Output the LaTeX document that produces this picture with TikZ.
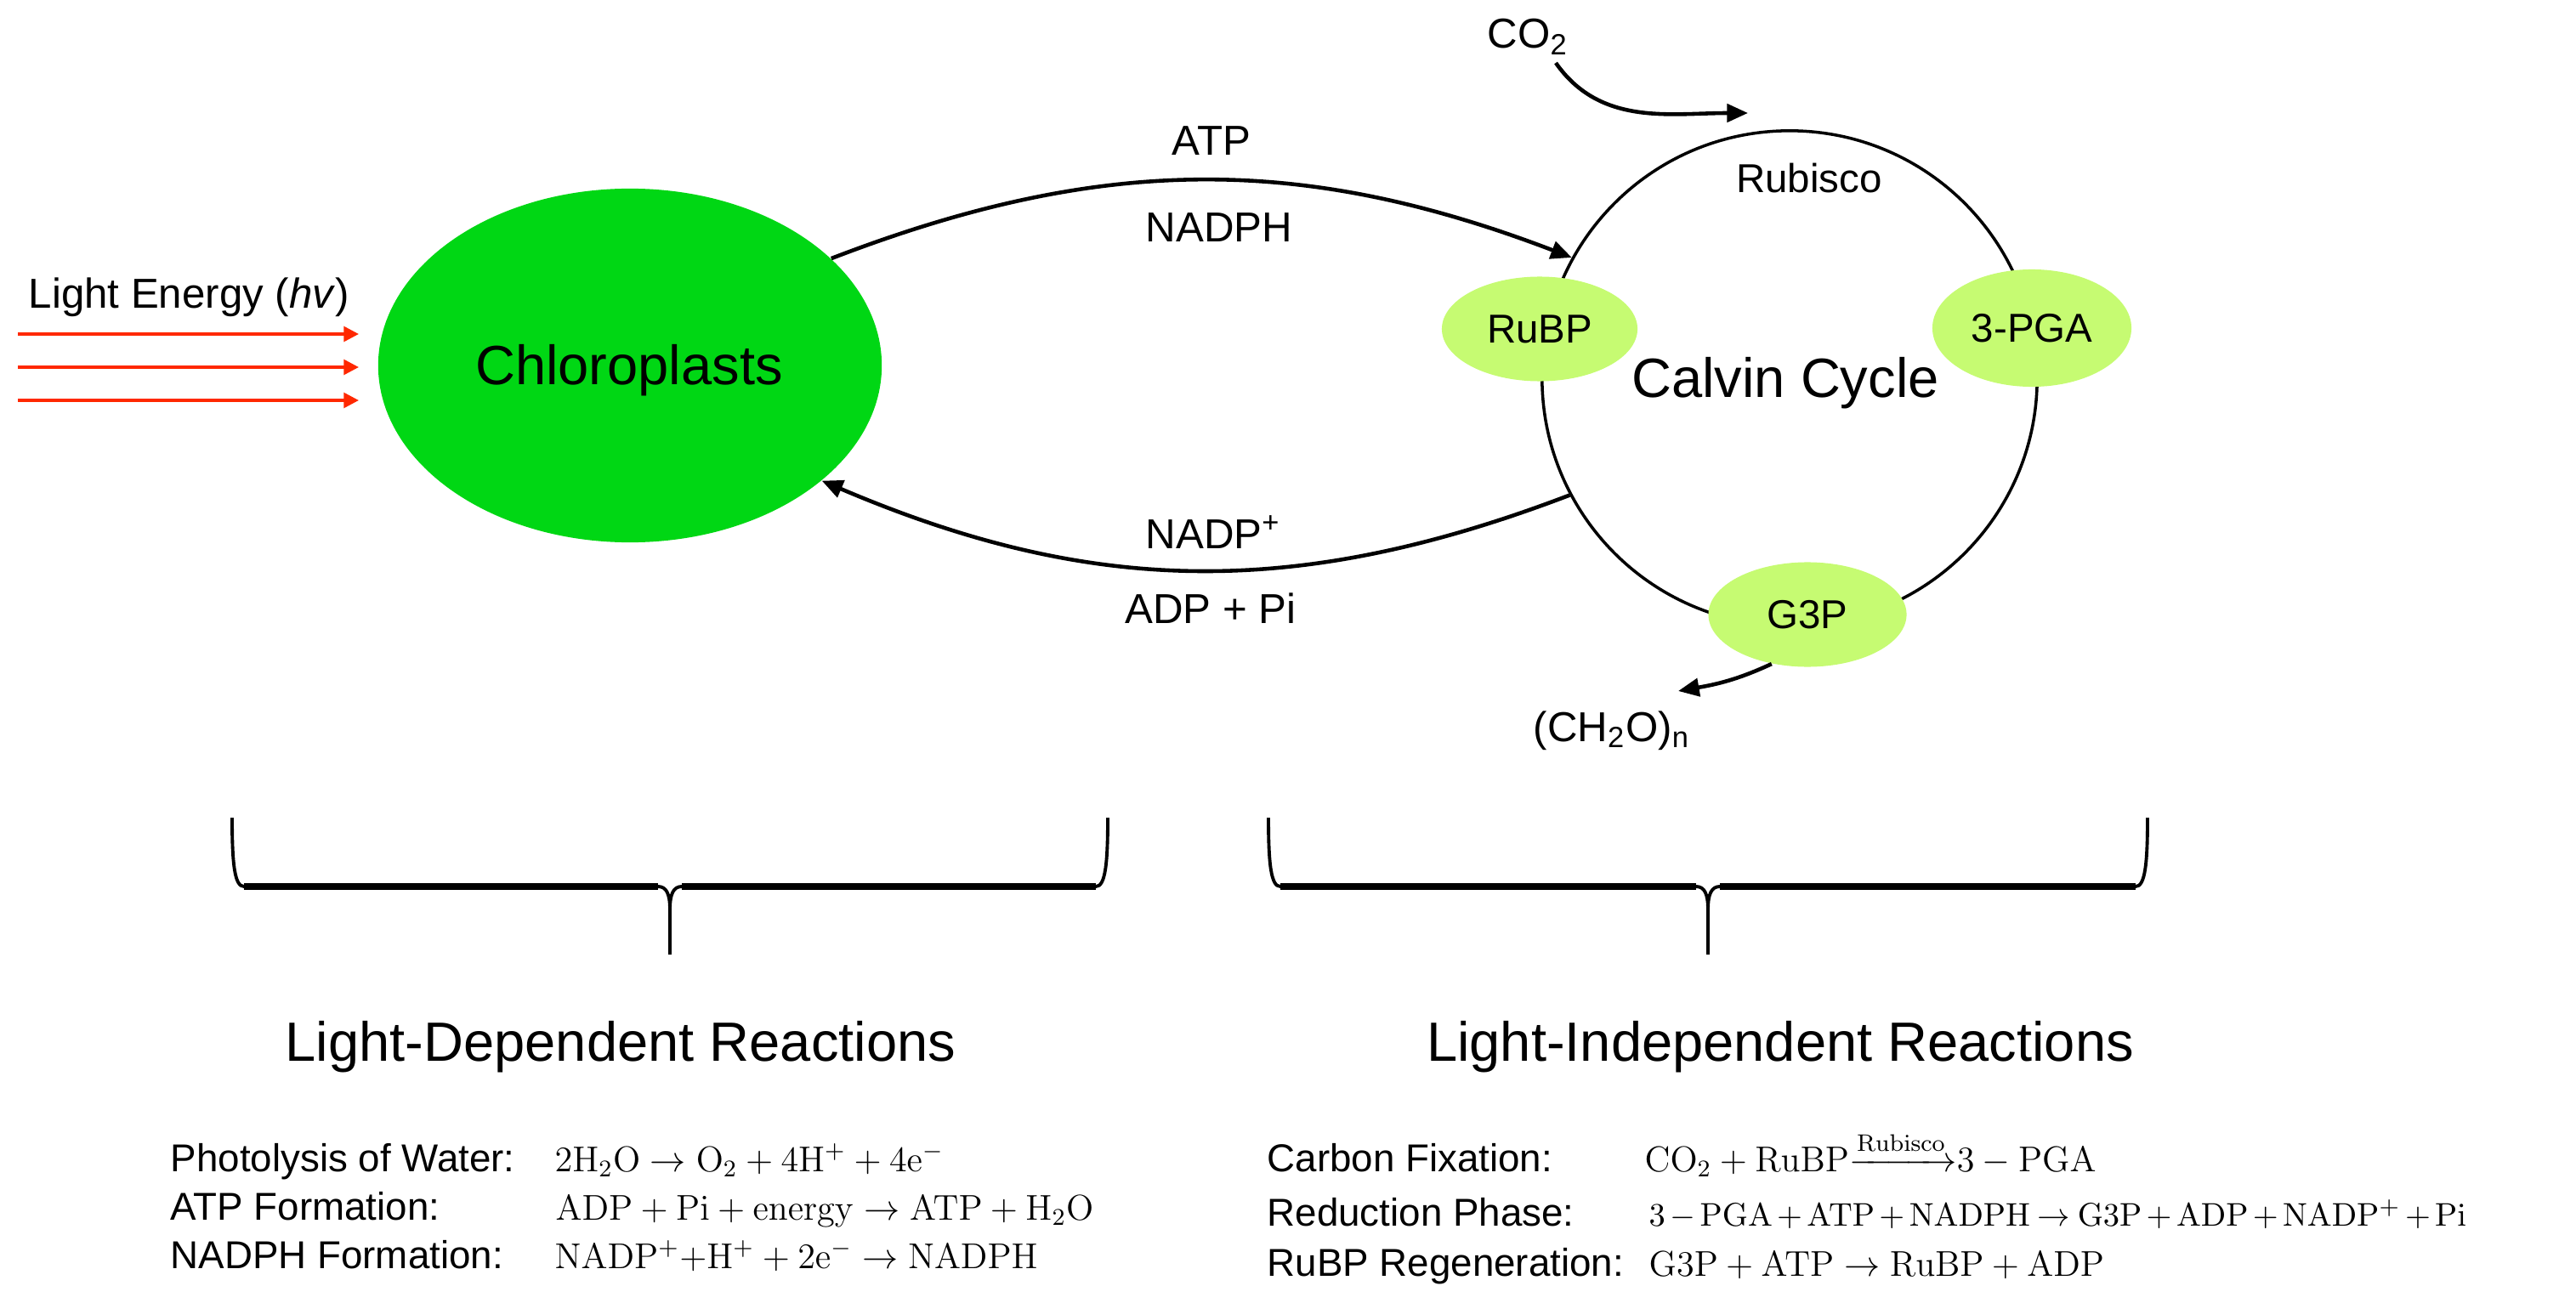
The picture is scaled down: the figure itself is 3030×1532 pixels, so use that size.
\documentclass[tikz,border=0pt]{standalone}
\usepackage[no-math]{fontspec}
\setmainfont{Liberation Sans}
\usepackage{amsmath}
\usetikzlibrary{arrows.meta,shapes.geometric}
\definecolor{chlgreen}{RGB}{0,215,20}
\definecolor{lightgreen}{RGB}{198,251,114}
\definecolor{lightred}{RGB}{255,40,0}
\newcommand\myfs[1]{\fontsize{#1}{#1}\selectfont}
\tikzset{
  blk/.style={line width=1.3pt,-{Triangle[length=7pt,width=6pt]}},
  redarrow/.style={draw=lightred,line width=1pt,-{Triangle[length=5pt,width=5pt]}},
  molec/.style={ellipse,fill=lightgreen,inner sep=0pt,font=\myfs{13.5}},
  lbl/.style={inner sep=0pt,font=\myfs{14},anchor=base},
  big/.style={inner sep=0pt,font=\myfs{18.5},anchor=base},
  eqlbl/.style={inner sep=0pt,font=\myfs{13},anchor=base west},
  eqn/.style={inner sep=0pt,font=\myfs{11.5},anchor=base west},
  bracepath/.style={line width=1.1pt},
  bracebar/.style={line width=2.2pt}
}
\begin{document}
\begin{tikzpicture}[x=0.01cm,y=0.01cm]
\useasboundingbox (0,0) rectangle (3030,1532);

% Chloroplast
\node[ellipse,fill=chlgreen,minimum width=5.92cm,minimum height=4.16cm,inner sep=0pt] (chl) at (741,1102) {};
\node[big] (chltxt) at (740,1079) {Chloroplasts};

% Light energy
\node[lbl,anchor=base west] (light) at (33,1169) {Light Energy (\textit{hv})};
\coordinate (l1s) at (21,1139); \coordinate (l1e) at (422,1139);
\coordinate (l2s) at (21,1100); \coordinate (l2e) at (422,1100);
\coordinate (l3s) at (21,1061); \coordinate (l3e) at (422,1061);
\draw[redarrow] (l1s) -- (l1e);
\draw[redarrow] (l2s) -- (l2e);
\draw[redarrow] (l3s) -- (l3e);

% Calvin cycle
\node[circle,draw,line width=1pt,minimum size=5.82cm,inner sep=0pt] (cc) at (2105,1087) {};
\node[big] (cctxt) at (2100,1064) {Calvin Cycle};
\node[molec,minimum width=2.30cm,minimum height=1.23cm] (rubp) at (1811,1145) {RuBP};
\node[molec,minimum width=2.34cm,minimum height=1.38cm] (pga) at (2390,1146) {3-PGA};
\node[molec,minimum width=2.33cm,minimum height=1.23cm] (g3p) at (2126,809) {G3P};
\node[lbl,font=\myfs{13.5}] (rubisco) at (2128,1305) {Rubisco};

% CO2 in
\node[lbl,anchor=base west] (co2) at (1749,1475) {CO\textsubscript{2}};
\coordinate (co2out) at (1830,1458);
\coordinate (co2in) at (2056,1399);
\draw[blk] (co2out) to[out=-55,in=180] (co2in);

% (CH2O)n out
\node[lbl,anchor=base west] (ch2o) at (1803,660) {(CH\textsubscript{2}O)\textsubscript{n}};
\coordinate (ch2oin) at (1974,719);
\draw[blk] (g3p.234) to[out=205,in=10] (ch2oin);

% Exchange arrows
\draw[blk] (chl.28) to[bend left=21] (cc.151.5);
\draw[blk] (cc.208) to[bend left=22] (chl.-31);
\node[lbl] (atp) at (1425,1349) {ATP};
\node[lbl] (nadph) at (1434,1247) {NADPH};
\node[lbl] (nadp) at (1427,887) {NADP\textsuperscript{+}};
\node[lbl] (adppi) at (1424,799) {ADP + Pi};

% Braces
\draw[bracepath] (273,570) .. controls (273,515) and (276,489) .. (287,489) -- (774,489)
  .. controls (784,489) and (788,480) .. (788,462) -- (788,409);
\draw[bracepath] (1303,570) .. controls (1303,515) and (1300,489) .. (1289,489) -- (802,489)
  .. controls (792,489) and (788,480) .. (788,462);
\draw[bracebar] (287,489) -- (774,489);
\draw[bracebar] (802,489) -- (1289,489);

\draw[bracepath] (1492,570) .. controls (1492,515) and (1495,489) .. (1506,489) -- (1995,489)
  .. controls (2005,489) and (2009,480) .. (2009,462) -- (2009,409);
\draw[bracepath] (2526,570) .. controls (2526,515) and (2523,489) .. (2512,489) -- (2023,489)
  .. controls (2013,489) and (2009,480) .. (2009,462);
\draw[bracebar] (1506,489) -- (1995,489);
\draw[bracebar] (2023,489) -- (2512,489);

\node[big] (ldr) at (730,284) {Light-Dependent Reactions};
\node[big] (lir) at (2094,284) {Light-Independent Reactions};

% Equations left
\node[eqlbl] (e1l) at (200,154) {Photolysis of Water:};
\node[eqlbl] (e2l) at (200,97) {ATP Formation:};
\node[eqlbl] (e3l) at (200,40) {NADPH Formation:};
\node[eqn] (e1) at (652,154) {$2\mathrm{H_2O}\rightarrow\mathrm{O_2}+4\mathrm{H^+}+4\mathrm{e^-}$};
\node[eqn] (e2) at (653,97) {$\mathrm{ADP}+\mathrm{Pi}+\mathrm{energy}\rightarrow\mathrm{ATP}+\mathrm{H_2O}$};
\node[eqn] (e3) at (652,40) {$\mathrm{NADP^+}{+}\mathrm{H^+}+2\mathrm{e^-}\rightarrow\mathrm{NADPH}$};

% Equations right
\node[eqlbl] (f1l) at (1490,154) {Carbon Fixation:};
\node[eqlbl] (f2l) at (1490,90) {Reduction Phase:};
\node[eqlbl] (f3l) at (1490,31) {RuBP Regeneration:};
\node[eqn] (f1) at (1934,154) {$\mathrm{CO_2}+\mathrm{RuBP}{\xrightarrow{\mathrm{Rubisco}}}3-\mathrm{PGA}$};
\node[eqn,font=\myfs{11}] (f2) at (1939,90) {$\medmuskip=2.5mu\thickmuskip=4mu 3-\mathrm{PGA}+\mathrm{ATP}+\mathrm{NADPH}\rightarrow\mathrm{G3P}+\mathrm{ADP}+\mathrm{NADP^+}+\mathrm{Pi}$};
\node[eqn] (f3) at (1939,31) {$\mathrm{G3P}+\mathrm{ATP}\rightarrow\mathrm{RuBP}+\mathrm{ADP}$};
\end{tikzpicture}
\end{document}
